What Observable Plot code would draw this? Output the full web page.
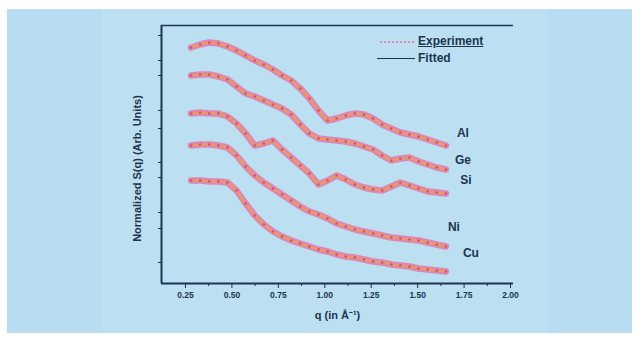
<!DOCTYPE html>
<html>
<head>
<meta charset="utf-8">
<script src="https://cdn.jsdelivr.net/npm/d3@7"></script>
<script src="https://cdn.jsdelivr.net/npm/@observablehq/plot@0.6"></script>
<style>
  html, body { margin: 0; padding: 0; background: #ffffff; }
  #page { position: relative; width: 640px; height: 337px; overflow: hidden; font-family: "Liberation Sans", Arial, sans-serif; }
  #bg { position: absolute; left: 7px; top: 9px; width: 625px; height: 324px; background: #b8dcf1; }
  #panel { position: absolute; left: 102px; top: 9px; width: 445px; height: 324px; background: #bcdff2; }
  #chart { position: absolute; left: 0; top: 0; }
  .leg { position: absolute; color: #1c3550; font-size: 12px; font-weight: bold; line-height: 14px; }
  .legline { position: absolute; height: 0; }
</style>
</head>
<body>
<div id="page">
  <div id="bg"></div>
  <div id="panel"></div>
  <div id="chart"></div>
  <div class="legline" style="left:380px; top:41px; width:34px; border-top:2px dotted #e58ab0;"></div>
  <div class="leg" style="left:418px; top:34px; text-decoration: underline;">Experiment</div>
  <div class="legline" style="left:377px; top:58px; width:38px; border-top:1.5px solid #1c3550;"></div>
  <div class="leg" style="left:418px; top:51px;">Fitted</div>
</div>
<script>
// q grid (Å⁻¹) at which the curves were read
const q = [0.280, 0.329, 0.378, 0.427, 0.476, 0.525, 0.574, 0.623, 0.672, 0.721,
           0.770, 0.819, 0.868, 0.917, 0.966, 1.015, 1.064, 1.113, 1.162, 1.211,
           1.260, 1.309, 1.358, 1.407, 1.456, 1.505, 1.554, 1.603, 1.652];

// Normalized S(q), vertically offset (arbitrary units), top to bottom
const seriesNames = ["Al", "Ge", "Si", "Ni", "Cu"];
const sA = [23.8, 24.1, 24.3, 24.2, 23.9, 23.5, 23.0, 22.5, 22.1, 21.6, 21.0, 20.5, 19.7, 18.7, 17.5, 16.5, 16.7, 17.0, 17.2, 17.1, 16.7, 16.1, 15.7, 15.3, 15.1, 14.9, 14.6, 14.3, 14.0];
const sB = [21.0, 21.1, 21.1, 20.9, 20.6, 19.9, 19.2, 18.9, 18.5, 18.1, 17.7, 17.1, 16.1, 15.2, 14.7, 14.6, 14.5, 14.4, 14.2, 13.9, 13.6, 13.0, 12.5, 12.7, 12.8, 12.4, 12.1, 11.8, 11.6];
const sC = [17.2, 17.3, 17.2, 17.2, 16.9, 16.2, 15.2, 14.0, 14.2, 14.5, 13.6, 12.8, 12.0, 11.2, 10.1, 10.5, 11.0, 10.6, 10.1, 9.8, 9.6, 9.5, 9.9, 10.3, 10.0, 9.7, 9.4, 9.3, 9.2];
const sD = [14.0, 14.1, 14.1, 14.0, 13.8, 13.0, 11.9, 11.0, 10.3, 9.7, 9.1, 8.5, 7.9, 7.4, 7.1, 6.7, 6.2, 5.9, 5.6, 5.4, 5.2, 5.0, 4.8, 4.7, 4.6, 4.5, 4.3, 4.1, 3.9];
const sE = [10.5, 10.5, 10.4, 10.4, 10.3, 9.5, 8.2, 7.0, 6.1, 5.4, 4.9, 4.5, 4.2, 3.9, 3.6, 3.4, 3.1, 2.9, 2.8, 2.6, 2.4, 2.3, 2.1, 2.0, 1.9, 1.7, 1.6, 1.5, 1.4];

const xTicks = [0.25, 0.50, 0.75, 1.00, 1.25, 1.50, 1.75, 2.00];
const xMinorTicks = [0.375, 0.625, 0.875, 1.125, 1.375, 1.625, 1.875];
const yTicks = [2.3, 5.7, 7.3, 10.8, 12.3, 15.7, 17.5, 21.0, 22.5, 25.0];
const xDomain = [0.121, 2.016];
const yDomain = [0.2, 26.0];

const xTitle = "q (in Å⁻¹)";
const yTitle = "Normalized S(q) (Arb. Units)";

const allSeries = [sA, sB, sC, sD, sE];
const rows = [];
allSeries.forEach((s, k) => s.forEach((v, i) => rows.push({q: q[i], s: v, name: seriesNames[k]})));
const ends = allSeries.map((s, k) => ({q: q[q.length - 1], s: s[s.length - 1], name: seriesNames[k]}));

const navy = "#1c3550";
const labelOffsets = [[17, -12], [17, -9], [20, -13], [8, -19], [25, -18]];

const chart = Plot.plot({
  width: 640,
  height: 337,
  marginLeft: 161,
  marginRight: 127,
  marginTop: 25,
  marginBottom: 54,
  style: {background: "transparent", fontFamily: "Liberation Sans, Arial, sans-serif", color: navy},
  x: {domain: xDomain},
  y: {domain: yDomain},
  marks: [
    Plot.line(rows, {x: "q", y: "s", z: "name", stroke: "#e96a9a", strokeWidth: 6.5, strokeOpacity: 0.75}),
    Plot.line(rows, {x: "q", y: "s", z: "name", stroke: "#e8a058", strokeWidth: 2, strokeOpacity: 0.9}),
    Plot.dot(rows, {x: "q", y: "s", r: 1.3, fill: "#d13f72", fillOpacity: 0.85}),
    Plot.ruleX([xDomain[0]], {stroke: navy, strokeWidth: 2}),
    Plot.ruleY([yDomain[0]], {stroke: navy, strokeWidth: 2}),
    Plot.ruleY([yDomain[1]], {stroke: navy, strokeWidth: 1.5}),
    Plot.axisX({ticks: xTicks, tickFormat: d3.format(".2f"), tickSize: 5, tickPadding: 3, fontSize: 8.5, fontWeight: "bold", stroke: navy, fill: navy, label: null}),
    Plot.axisX({ticks: xMinorTicks, tickFormat: () => "", tickSize: 3, stroke: navy, label: null}),
    Plot.axisY({ticks: yTicks, tickFormat: () => "", tickSize: 3, stroke: navy, label: null}),
    Plot.text([xTitle], {frameAnchor: "bottom", dy: 35, fontSize: 11, fontWeight: "bold", fill: navy}),
    Plot.text([yTitle], {frameAnchor: "left", textAnchor: "middle", dx: -24, dy: 14, rotate: -90, fontSize: 11, fontWeight: "bold", fill: navy}),
    ...ends.map((e, k) => Plot.text([e], {x: "q", y: "s", text: "name", dx: labelOffsets[k][0], dy: labelOffsets[k][1], fontSize: 12, fontWeight: "bold", fill: navy}))
  ]
});
document.getElementById("chart").appendChild(chart);
</script>
</body>
</html>
